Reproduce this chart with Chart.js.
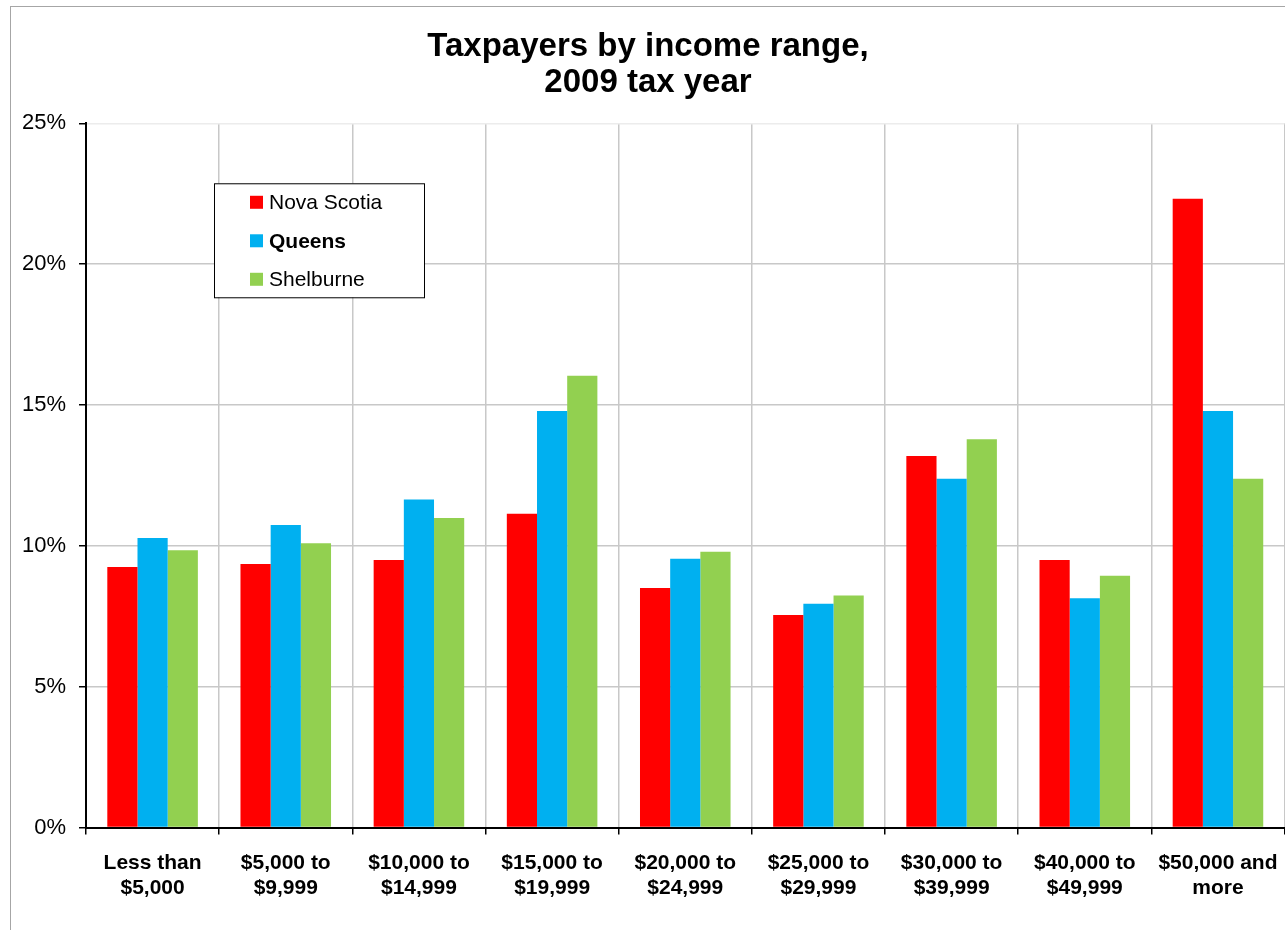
<!DOCTYPE html>
<html lang="en">

<head>
    <meta charset="UTF-8">
    <title>Taxpayers by income range, 2009 tax year</title>
    <script src="https://cdn.jsdelivr.net/npm/chart.js"></script>
    <style>
        html, body { margin: 0; padding: 0; background: #fff; overflow: hidden; }
        #frame {
            position: absolute; left: 10px; top: 6px;
            width: 1290px; height: 930px;
            border-left: 1px solid #a6a6a6; border-top: 1px solid #a6a6a6;
        }
        #wrap { position: absolute; left: 0; top: 0; width: 1283px; height: 923px; }
    </style>
</head>

<body>
    <div id="frame">
        <div id="wrap"><canvas id="myChart"></canvas></div>
    </div>

    <script>
        // income ranges (two-line labels)
        const incomeRanges = [
            ['Less than', '$5,000'],
            ['$5,000 to', '$9,999'],
            ['$10,000 to', '$14,999'],
            ['$15,000 to', '$19,999'],
            ['$20,000 to', '$24,999'],
            ['$25,000 to', '$29,999'],
            ['$30,000 to', '$39,999'],
            ['$40,000 to', '$49,999'],
            ['$50,000 and', 'more']
        ];
        // share of taxpayers, percent
        const novaScotia = [9.25, 9.35, 9.5, 11.14, 8.5, 7.54, 13.19, 9.5, 22.32];
        const queens = [10.28, 10.74, 11.64, 14.79, 9.54, 7.94, 12.38, 8.14, 14.79];
        const shelburne = [9.84, 10.09, 10.99, 16.04, 9.79, 8.24, 13.78, 8.94, 12.38];

        const FONT = '"Liberation Sans", Arial, sans-serif';

        // boxed legend inside the plot, with the Queens entry in bold
        const boxLegend = {
            id: 'boxLegend',
            afterDraw(chart) {
                const { ctx, chartArea } = chart;
                const x = chartArea.left + 128, y = chartArea.top + 60;
                const w = 210, h = 114;
                ctx.save();
                ctx.fillStyle = '#fff';
                ctx.fillRect(x, y, w, h);
                ctx.strokeStyle = '#000';
                ctx.lineWidth = 1;
                ctx.strokeRect(x + 0.5, y + 0.5, w, h);
                ctx.textBaseline = 'middle';
                chart.data.datasets.forEach((ds, i) => {
                    const cy = y + 19 + i * 38.5;
                    ctx.fillStyle = ds.backgroundColor;
                    ctx.fillRect(x + 36, cy - 6.5, 13, 13);
                    ctx.fillStyle = '#000';
                    ctx.font = (ds.label === 'Queens' ? 'bold ' : '') + '21px ' + FONT;
                    ctx.fillText(ds.label, x + 55, cy + 1);
                });
                ctx.restore();
            }
        };

        const ctx = document.getElementById('myChart').getContext('2d');
        const myChart = new Chart(ctx, {
            type: 'bar',
            data: {
                labels: incomeRanges,
                datasets: [
                    { label: 'Nova Scotia', data: novaScotia, backgroundColor: '#ff0000' },
                    { label: 'Queens', data: queens, backgroundColor: '#00b0f0' },
                    { label: 'Shelburne', data: shelburne, backgroundColor: '#92d050' }
                ]
            },
            options: {
                responsive: true,
                maintainAspectRatio: false,
                animation: false,
                layout: { padding: { top: 0, right: 9, bottom: 0, left: 0 } },
                datasets: {
                    bar: { categoryPercentage: 0.68, barPercentage: 1.0 }
                },
                plugins: {
                    legend: { display: false },
                    tooltip: { enabled: false },
                    title: {
                        display: true,
                        text: ['Taxpayers by income range,', '2009 tax year'],
                        color: '#000',
                        font: { family: FONT, size: 33, weight: 'bold', lineHeight: 1.08 },
                        padding: { top: 22, bottom: 23 }
                    }
                },
                scales: {
                    x: {
                        grid: {
                            color: '#c8c8c8',
                            lineWidth: 1.5,
                            tickColor: '#000',
                            tickLength: 7,
                            tickWidth: 1.5
                        },
                        border: { color: '#000', width: 2 },
                        ticks: {
                            color: '#000',
                            padding: 16,
                            maxRotation: 0,
                            autoSkip: false,
                            font: { family: FONT, size: 21, weight: 'bold', lineHeight: 1.2 }
                        },
                        afterFit(scale) { scale.height = 102.5; }
                    },
                    y: {
                        min: 0,
                        max: 25,
                        grid: {
                            color: c => (c.tick && c.tick.value === 25) ? '#ececec' : '#c8c8c8',
                            lineWidth: 1.5,
                            tickColor: '#000',
                            tickLength: 7,
                            tickWidth: 1.5
                        },
                        border: { color: '#000', width: 2 },
                        ticks: {
                            stepSize: 5,
                            color: '#000',
                            padding: 13,
                            font: { family: FONT, size: 22 },
                            callback: v => v + '%'
                        },
                        afterFit(scale) { scale.width = 75; }
                    }
                }
            },
            plugins: [boxLegend]
        });
    </script>
</body>

</html>
